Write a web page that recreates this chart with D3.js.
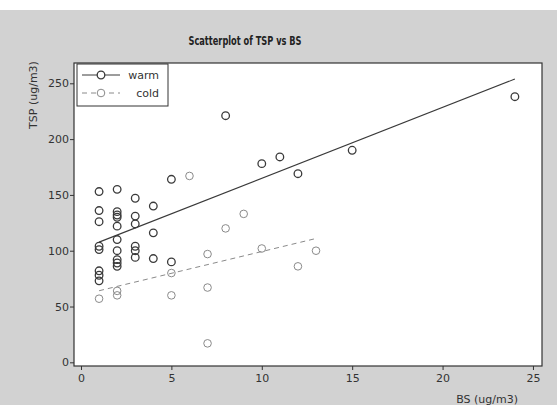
<!DOCTYPE html>
<html>
<head>
<meta charset="utf-8">
<script src="https://cdn.jsdelivr.net/npm/d3@7"></script>
<style>
  body { margin: 0; background: #fff; }
  text { font-family: "DejaVu Sans", Verdana, sans-serif; fill: #333; }
</style>
</head>
<body>
<div id="chart"></div>
<script>
// Data: BS (x) and TSP (y) for each season
const warmBS = [1, 1, 1, 1, 1, 1, 1, 1,
  2, 2, 2, 2, 2, 2, 2, 2, 2, 2,
  3, 3, 3, 3, 3, 3,
  4, 4, 4,
  5, 5,
  8, 10, 11, 12, 15, 24];
const warmTSP = [153, 136, 126, 104, 101, 82, 78, 73,
  155, 135, 132, 130, 122, 110, 100, 92, 89, 86,
  147, 131, 124, 104, 100, 94,
  140, 116, 93,
  164, 90,
  221, 178, 184, 169, 190, 238];

const coldBS = [1, 2, 2, 5, 5, 6, 7, 7, 7, 8, 9, 10, 12, 13];
const coldTSP = [57, 64, 60, 80, 60, 167, 97, 67, 17, 120, 133, 102, 86, 100];

const xTicks = [0, 5, 10, 15, 20, 25];
const yTicks = [0, 50, 100, 150, 200, 250];

const width = 557, height = 405;
const plot = { left: 74, top: 63, right: 542, bottom: 366 };

const svg = d3.select("#chart")
  .append("svg")
  .attr("width", width)
  .attr("height", height);

// grey page background (top strip stays white like the scan)
svg.append("rect")
  .attr("x", 0).attr("y", 10)
  .attr("width", width).attr("height", height - 10)
  .attr("fill", "#d2d2d2");

const x = d3.scaleLinear().domain([-0.387, 25.5]).range([plot.left, plot.right]);
const y = d3.scaleLinear().domain([-3.3, 268.2]).range([plot.bottom, plot.top]);

svg.append("rect")
  .attr("x", plot.left).attr("y", plot.top)
  .attr("width", plot.right - plot.left)
  .attr("height", plot.bottom - plot.top)
  .attr("fill", "#fff")
  .attr("stroke", "#333")
  .attr("stroke-width", 1.2);

// axes
const xAxis = svg.append("g")
  .attr("transform", `translate(0,${plot.bottom})`)
  .call(d3.axisBottom(x).tickValues(xTicks).tickSize(4).tickPadding(4));
const yAxis = svg.append("g")
  .attr("transform", `translate(${plot.left},0)`)
  .call(d3.axisLeft(y).tickValues(yTicks).tickSize(4).tickPadding(1));
[xAxis, yAxis].forEach((ax) => {
  ax.select(".domain").remove();
  ax.selectAll("line").attr("stroke", "#333");
  ax.selectAll("text").style("font-size", "11px").attr("fill", "#333");
});

svg.append("text")
  .attr("x", 245).attr("y", 45)
  .attr("text-anchor", "middle")
  .attr("textLength", 113)
  .attr("lengthAdjust", "spacingAndGlyphs")
  .style("font-size", "12px")
  .style("font-weight", "bold")
  .style("fill", "#222")
  .text("Scatterplot of TSP vs BS");

svg.append("text")
  .attr("transform", "translate(37,95) rotate(-90)")
  .attr("text-anchor", "middle")
  .style("font-size", "11px")
  .text("TSP (ug/m3)");

svg.append("text")
  .attr("x", 518).attr("y", 403)
  .attr("text-anchor", "end")
  .style("font-size", "11px")
  .text("BS (ug/m3)");

// least squares fit for each group
const fit = (xs, ys) => {
  const mx = d3.mean(xs), my = d3.mean(ys);
  const sxy = d3.sum(xs, (v, i) => (v - mx) * (ys[i] - my));
  const sxx = d3.sum(xs, (v) => (v - mx) ** 2);
  const b = sxy / sxx;
  const [x0, x1] = d3.extent(xs);
  return [[x0, my + b * (x0 - mx)], [x1, my + b * (x1 - mx)]];
};

const line = d3.line().x((d) => x(d[0])).y((d) => y(d[1]));

const groups = [
  { name: "warm", bs: warmBS, tsp: warmTSP, color: "#3a3a3a", dash: null, width: 1.1 },
  { name: "cold", bs: coldBS, tsp: coldTSP, color: "#8a8a8a", dash: "5,4", width: 1 },
];

groups.forEach((g) => {
  svg.append("path")
    .attr("d", line(fit(g.bs, g.tsp)))
    .attr("fill", "none")
    .attr("stroke", g.color)
    .attr("stroke-width", g.width)
    .attr("stroke-dasharray", g.dash);

  svg.append("g")
    .selectAll("circle")
    .data(g.bs.map((v, i) => [v, g.tsp[i]]))
    .join("circle")
    .attr("cx", (d) => x(d[0]))
    .attr("cy", (d) => y(d[1]))
    .attr("r", 3.8)
    .attr("fill", "none")
    .attr("stroke", g.color)
    .attr("stroke-width", g.name === "warm" ? 1.3 : 1);
});

// legend
const legend = svg.append("g");
legend.append("rect")
  .attr("x", 77).attr("y", 64)
  .attr("width", 91).attr("height", 42)
  .attr("fill", "#fff")
  .attr("stroke", "#333");

groups.forEach((g, i) => {
  const ly = 75 + i * 18;
  legend.append("line")
    .attr("x1", 82).attr("x2", 120)
    .attr("y1", ly).attr("y2", ly)
    .attr("stroke", g.color)
    .attr("stroke-dasharray", g.dash);
  legend.append("circle")
    .attr("cx", 101).attr("cy", ly)
    .attr("r", 3.8)
    .attr("fill", "#fff")
    .attr("stroke", g.color)
    .attr("stroke-width", g.name === "warm" ? 1.3 : 1);
  legend.append("text")
    .attr("x", 159).attr("y", ly + 4)
    .attr("text-anchor", "end")
    .style("font-size", "11px")
    .text(g.name);
});
</script>
</body>
</html>
